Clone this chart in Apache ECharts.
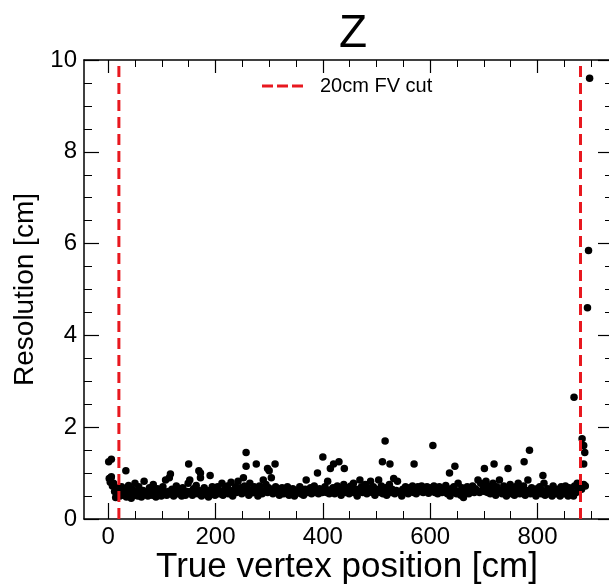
<!DOCTYPE html>
<html><head><meta charset="utf-8">
<script src="https://cdn.jsdelivr.net/npm/echarts@6/dist/echarts.min.js"></script>
<style>html,body{margin:0;padding:0;background:#fff;}#c{width:609px;height:585px;}</style>
</head><body><div id="c"></div>
<script>
const chartTitle = "Z";
const xAxisName = "True vertex position [cm]";
const yAxisName = "Resolution [cm]";
const cutName = "20cm FV cut";
const cutPositions = [20, 880];
const xTicks = [0, 200, 400, 600, 800];
const yTicks = [0, 2, 4, 6, 8, 10];

const bandPoints = [
[2,0.88],[4,0.8],[6,0.92],[8,0.72],[10,0.78],[12,0.6],[14,0.47],[16,0.68],[18,0.55],[20,0.62],[22,0.5],[25,0.7],[27,0.58],[29,0.52],[31,0.66],[34,0.48],[36,0.6],[38,0.73],[41,0.55],[43,0.45],[45,0.64],[48,0.52],[50,0.78],[53,0.6],[55,0.5],[57,0.7],[60,0.56],[62,0.48],[65,0.62],[67,0.82],[70,0.55],[72,0.6],[74,0.5],[77,0.68],[79,0.58],[82,0.52],[84,0.75],[87,0.6],[89,0.48],[92,0.66],[94,0.55],[97,0.62],[99,0.5],
[102,0.7],[104,0.58],[107,0.85],[109,0.52],[112,0.6],[114,0.9],[117,0.55],[119,0.65],[122,0.5],[124,0.6],[127,0.72],[129,0.55],[132,0.58],[134,0.62],[137,0.5],[139,0.68],[142,0.57],[144,0.52],[147,0.6],[149,0.78],[152,0.85],[154,0.6],[157,0.52],[159,0.66],[162,0.58],[164,0.73],[167,0.55],[169,0.62],[172,0.9],[174,0.5],[177,0.6],[179,0.68],[182,0.56],[184,0.6],[187,0.48],[189,0.62],[192,0.55],[194,0.7],[197,0.58],[199,0.52],
[202,0.62],[204,0.7],[207,0.55],[209,0.6],[212,0.78],[214,0.52],[217,0.65],[219,0.58],[222,0.72],[224,0.55],[227,0.62],[229,0.8],[232,0.5],[234,0.6],[237,0.7],[239,0.58],[242,0.82],[244,0.62],[247,0.68],[249,0.55],[252,0.9],[254,0.72],[257,0.6],[259,0.66],[262,0.52],[264,0.78],[267,0.62],[269,0.57],[272,0.7],[274,0.58],[277,0.65],[279,0.5],[282,0.72],[284,0.6],[287,0.55],[289,0.85],[292,0.62],[294,0.75],[297,0.58],[299,0.68],
[302,0.6],[304,0.9],[307,0.55],[309,0.62],[312,0.7],[314,0.58],[317,0.65],[319,0.52],[322,0.6],[324,0.68],[327,0.55],[329,0.62],[332,0.58],[334,0.7],[337,0.52],[339,0.6],[342,0.56],[344,0.66],[347,0.5],[349,0.6],[352,0.58],[354,0.62],[357,0.7],[359,0.55],[362,0.6],[364,0.52],[367,0.65],[369,0.85],[372,0.58],[374,0.62],[377,0.68],[379,0.55],[382,0.6],[384,0.72],[387,0.58],[389,0.63],[392,0.55],[394,0.66],[397,0.6],[399,0.58],
[402,0.62],[404,0.7],[407,0.58],[409,0.82],[412,0.55],[414,0.63],[417,0.6],[419,0.68],[422,0.55],[424,0.62],[427,0.72],[429,0.58],[432,0.65],[434,0.52],[437,0.6],[439,0.75],[442,0.58],[444,0.62],[447,0.68],[449,0.55],[452,0.72],[454,0.6],[457,0.78],[459,0.57],[462,0.65],[464,0.5],[467,0.62],[469,0.85],[472,0.7],[474,0.58],[477,0.62],[479,0.75],[482,0.55],[484,0.68],[487,0.6],[489,0.82],[492,0.58],[494,0.7],[497,0.52],[499,0.65],
[502,0.6],[504,0.85],[507,0.58],[509,0.72],[512,0.55],[514,0.62],[517,0.68],[519,0.52],[522,0.6],[524,0.75],[527,0.58],[529,0.65],[532,0.88],[534,0.55],[537,0.62],[539,0.82],[542,0.58],[544,0.6],[547,0.5],[549,0.65],[552,0.58],[554,0.7],[557,0.62],[559,0.55],[562,0.68],[564,0.6],[567,0.72],[569,0.58],[572,0.65],[574,0.55],[577,0.7],[579,0.62],[582,0.6],[584,0.72],[587,0.58],[589,0.66],[592,0.62],[594,0.7],[597,0.56],[599,0.64],
[602,0.68],[604,0.6],[607,0.72],[609,0.58],[612,0.65],[614,0.55],[617,0.7],[619,0.62],[622,0.58],[624,0.66],[627,0.6],[629,0.73],[632,0.55],[634,0.62],[637,0.5],[639,0.66],[642,0.58],[644,0.7],[647,0.62],[649,0.55],[652,0.78],[654,0.6],[657,0.52],[659,0.68],[662,0.47],[664,0.62],[667,0.58],[669,0.7],[672,0.55],[674,0.65],[677,0.6],[679,0.72],[682,0.58],[684,0.66],[687,0.62],[689,0.85],[692,0.58],[694,0.78],[697,0.62],[699,0.7],
[702,0.6],[704,0.82],[707,0.58],[709,0.72],[712,0.55],[714,0.65],[717,0.78],[719,0.6],[722,0.52],[724,0.7],[727,0.58],[729,0.85],[732,0.62],[734,0.55],[737,0.72],[739,0.6],[742,0.5],[744,0.68],[747,0.58],[749,0.75],[752,0.55],[754,0.62],[757,0.52],[759,0.7],[762,0.6],[764,0.78],[767,0.55],[769,0.65],[772,0.58],[774,0.72],[777,0.52],[779,0.62],[782,0.85],[784,0.6],[787,0.55],[789,0.68],[792,0.58],[794,0.62],[797,0.5],[799,0.66],
[802,0.58],[804,0.7],[807,0.55],[809,0.62],[812,0.78],[814,0.52],[817,0.6],[819,0.66],[822,0.55],[824,0.6],[827,0.5],[829,0.72],[832,0.58],[834,0.55],[837,0.65],[839,0.6],[842,0.5],[844,0.7],[847,0.62],[849,0.55],[852,0.72],[854,0.58],[857,0.5],[859,0.68],[862,0.62],[864,0.55],[867,0.5],[869,0.72],[872,0.58],[874,0.78],[877,0.62],[879,0.7],[882,0.65],[886,0.75],[889,0.72]
];

const outlierPoints = [
[1,1.25],[6,1.3],[5,0.9],[33,1.05],[116,0.98],[150,1.2],[169,1.05],[172,1.0],[190,0.95],[257,1.45],[257,1.15],[276,1.2],[297,1.1],[300,1.05],[311,1.2],[390,1.0],[400,1.35],[414,1.1],[420,1.2],[430,1.25],[440,1.1],[511,1.25],[516,1.7],[525,1.2],[570,1.2],[605,1.6],[636,1.0],[646,1.15],[701,1.1],[719,1.2],[745,1.1],[775,1.25],[785,1.5],[810,0.95],[868,2.65],[883,1.75],[886,1.6],[888,1.45],[886,1.2],[893,4.6],[895,5.85],[897,9.6]
];

const FONT = "'Liberation Sans', Arial, sans-serif";
const RED = '#e8181f';
const chart = echarts.init(document.getElementById('c'), null, {renderer: 'canvas'});

const xMin = -45, xMax = 935, yMin = 0, yMax = 10;
const axisLine = {show: true, onZero: false, lineStyle: {color: '#000', width: 1.5}};

function xAxisDef(pos, showLabel, showName) {
  return {
    type: 'value', position: pos, min: xMin, max: xMax,
    splitLine: {show: false},
    axisLine: axisLine,
    axisTick: {show: true, inside: true, length: pos === 'bottom' ? 16 : 13, lineStyle: {color: '#000', width: 1.2},
      customValues: xTicks},
    minorTick: {show: true, splitNumber: 4, length: pos === 'bottom' ? 8 : 7, lineStyle: {color: '#000', width: 1}},
    axisLabel: {show: showLabel, color: '#000', fontFamily: FONT, fontSize: 24, margin: 6,
      customValues: xTicks},
    name: showName ? xAxisName : '', nameLocation: 'middle', nameGap: 31, nameMoveOverlap: false,
    nameTextStyle: {color: '#000', fontFamily: FONT, fontSize: 35}
  };
}
function yAxisDef(pos, showLabel, showName) {
  return {
    type: 'value', position: pos, min: yMin, max: yMax,
    interval: 2, splitLine: {show: false},
    axisLine: axisLine,
    axisTick: {show: true, inside: true, length: pos === 'left' ? 15 : 12, lineStyle: {color: '#000', width: 1.2}},
    minorTick: {show: true, splitNumber: 4, length: pos === 'left' ? 8 : 5, lineStyle: {color: '#000', width: 1}},
    axisLabel: {show: showLabel, color: '#000', fontFamily: FONT, fontSize: 24, margin: 7},
    name: showName ? yAxisName : '', nameLocation: 'middle', nameGap: 44,
    nameTextStyle: {color: '#000', fontFamily: FONT, fontSize: 28}
  };
}

const cutSeries = cutPositions.map(function (c) {
  return {
    name: cutName, type: 'line', xAxisIndex: 0, yAxisIndex: 0,
    data: [[c, yMin], [c, yMax]], symbol: 'none', silent: true,
    itemStyle: {color: RED},
    lineStyle: {color: RED, width: 3, type: [11, 6]}, z: 3
  };
});

chart.setOption({
  animation: false,
  backgroundColor: '#fff',
  title: {text: chartTitle, left: 348, top: 6, textAlign: 'center',
    textStyle: {color: '#000', fontFamily: FONT, fontSize: 46, fontWeight: 'normal'}},
  legend: {
    data: [{name: cutName, icon: 'path://M0,0 L11,0 L11,3 L0,3 Z M15,0 L26,0 L26,3 L15,3 Z M30,0 L41,0 L41,3 L30,3 Z',
      itemStyle: {color: RED}}],
    left: 257, top: 71, itemWidth: 41, itemHeight: 3,
    textStyle: {color: '#000', fontFamily: FONT, fontSize: 20, padding: [0, 0, 0, 12]},
    selectedMode: false
  },
  grid: {left: 84, top: 60, width: 526, height: 459, containLabel: false, outerBoundsMode: 'none'},
  xAxis: [xAxisDef('bottom', true, true), xAxisDef('top', false, false)],
  yAxis: [yAxisDef('left', true, true), yAxisDef('right', false, false)],
  series: cutSeries.concat([
    {name: 'band', type: 'scatter', data: bandPoints, symbol: 'circle', symbolSize: 7.5,
      itemStyle: {color: '#000', opacity: 1}, z: 2, silent: true},
    {name: 'outliers', type: 'scatter', data: outlierPoints, symbol: 'circle', symbolSize: 7.5,
      itemStyle: {color: '#000', opacity: 1}, z: 2, silent: true}
  ])
});
</script>
</body></html>
